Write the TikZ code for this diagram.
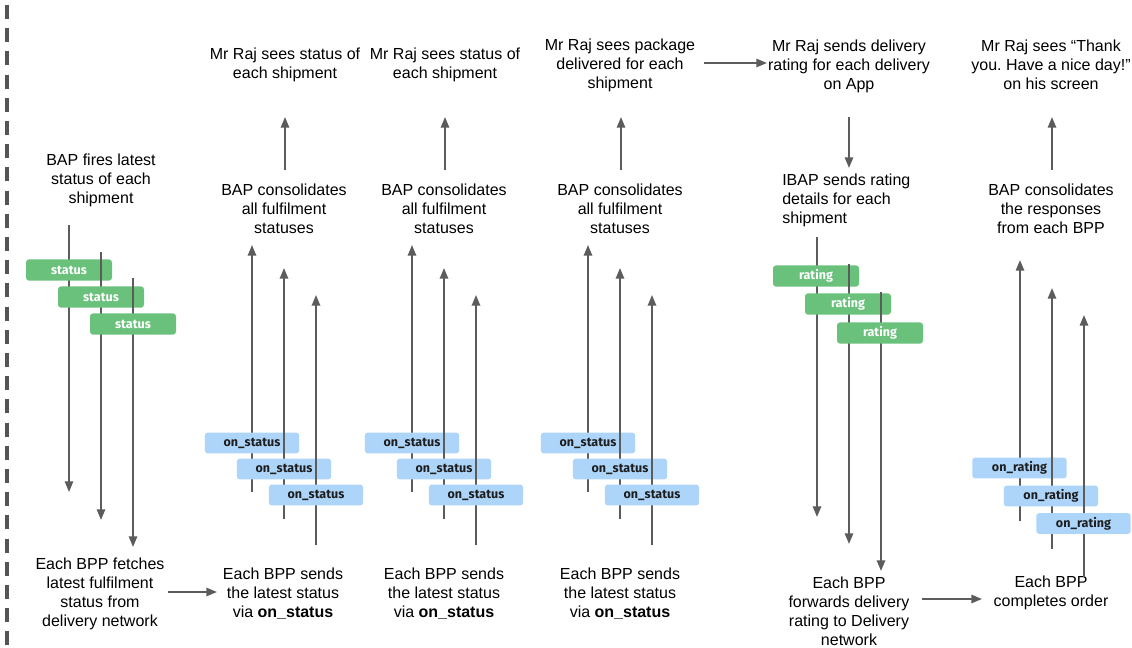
\documentclass[tikz,border=0pt]{standalone}
\usepackage{fontspec}
\setmainfont{Liberation Sans}
\newfontfamily\tagfont{Fira Sans}
\usetikzlibrary{arrows.meta}
\frenchspacing
\definecolor{lc}{HTML}{5C5C5C}
\definecolor{dashc}{HTML}{555555}
\definecolor{tgreen}{HTML}{6AC17B}
\definecolor{tblue}{HTML}{ADD5FA}
\definecolor{tdark}{HTML}{1E1E1E}
% #1 name, #2 x, #3 start y, #4 end y, #5 tag x, #6 tag y, #7 tag style, #8 tag text
\newcommand\laneitem[8]{%
  \coordinate (#1s) at (#2,#3);
  \coordinate (#1e) at (#2,#4);
  \draw[arr] (#1s) -- (#1e);
  \node[#7] (#1t) at (#5,#6) {#8};
}
\begin{document}
\begin{tikzpicture}[x=0.75pt,y=-0.75pt,
  txt/.style={align=center,inner sep=0pt,font=\fontsize{12}{14.25}\selectfont,text=black},
  txtl/.style={align=left,inner sep=0pt,font=\fontsize{12}{14.25}\selectfont,text=black},
  arr/.style={draw=lc,line width=1.5pt,-{Triangle[length=8pt,width=6.2pt]}},
  tagbase/.style={rounded corners=2.25pt,inner sep=0pt,font=\tagfont\bfseries\fontsize{9.4}{10}\selectfont},
  gtag/.style={tagbase,fill=tgreen,text=white,minimum width=64.5pt,minimum height=15.9pt},
  btag/.style={tagbase,fill=tblue,text=tdark,minimum width=70.8pt,minimum height=15.6pt},
]
\useasboundingbox (0,0) rectangle (1132,647);
\fill[white] (0,0) rectangle (1132,647);

% left dashed separator
\coordinate (dtop) at (7,5);
\coordinate (dbot) at (7,647);
\draw[dashc,line width=3pt,dash pattern=on 10.5pt off 6.9pt] (dtop) -- (dbot);

% ---------- texts ----------
\node[txt] (t1) at (101,180) {BAP fires latest\\status of each\\shipment};
\node[txt] (b1) at (100,594) {Each BPP fetches\\latest fulfilment\\status from\\delivery network};

\node[txt] (m2) at (285,65) {Mr Raj sees status of\\each shipment};
\node[txt] (c2) at (284,209) {BAP consolidates\\all fulfilment\\statuses};
\node[txt] (b2) at (283,594) {Each BPP sends\\the latest status\\via \textbf{on\_status}};

\node[txt] (m3) at (445,65) {Mr Raj sees status of\\each shipment};
\node[txt] (c3) at (444,209) {BAP consolidates\\all fulfilment\\statuses};
\node[txt] (b3) at (444,594) {Each BPP sends\\the latest status\\via \textbf{on\_status}};

\node[txt] (m4) at (620,65) {Mr Raj sees package\\delivered for each\\shipment};
\node[txt] (c4) at (620,209) {BAP consolidates\\all fulfilment\\statuses};
\node[txt] (b4) at (620,594) {Each BPP sends\\the latest status\\via \textbf{on\_status}};

\node[txt] (m5) at (849,66) {Mr Raj sends delivery\\rating for each delivery\\on App};
\node[txtl,anchor=west] (c5) at (782,200) {IBAP sends rating\\details for each\\shipment};
\node[txt] (b5) at (849,611) {Each BPP\\forwards delivery\\rating to Delivery\\network};

\node[txt] (m6) at (1051,65) {Mr Raj sees “Thank\\you. Have a nice day!”\\on his screen};
\node[txt] (c6) at (1051,209) {BAP consolidates\\the responses\\from each BPP};
\node[txt] (b6) at (1051,593) {Each BPP\\completes order};

% ---------- short connectors ----------
\coordinate (h1s) at (168,592); \coordinate (h1e) at (217,592);
\draw[arr] (h1s) -- (h1e);
\coordinate (h2s) at (704,63); \coordinate (h2e) at (767,63);
\draw[arr] (h2s) -- (h2e);
\coordinate (h3s) at (922,599); \coordinate (h3e) at (982,599);
\draw[arr] (h3s) -- (h3e);

\coordinate (u2s) at (285,170); \coordinate (u2e) at (285,117);
\draw[arr] (u2s) -- (u2e);
\coordinate (u3s) at (445,170); \coordinate (u3e) at (445,117);
\draw[arr] (u3s) -- (u3e);
\coordinate (u4s) at (621,170); \coordinate (u4e) at (621,117);
\draw[arr] (u4s) -- (u4e);
\coordinate (d5s) at (849,117); \coordinate (d5e) at (849,168);
\draw[arr] (d5s) -- (d5e);
\coordinate (u6s) at (1052,170); \coordinate (u6e) at (1052,117);
\draw[arr] (u6s) -- (u6e);

% ---------- column 1: status ----------
\laneitem{a1}{69}{225}{492}{69}{270}{gtag}{status}
\laneitem{a2}{101}{252}{520}{101}{297}{gtag}{status}
\laneitem{a3}{133}{278}{547}{133}{324}{gtag}{status}

% ---------- column 2: on_status ----------
\laneitem{b21}{252}{492}{245}{252}{443}{btag}{on\_status}
\laneitem{b22}{284}{519}{268}{284}{469}{btag}{on\_status}
\laneitem{b23}{316}{545}{295}{316}{495}{btag}{on\_status}

% ---------- column 3: on_status ----------
\laneitem{b31}{412}{492}{245}{412}{443}{btag}{on\_status}
\laneitem{b32}{444}{519}{268}{444}{469}{btag}{on\_status}
\laneitem{b33}{476}{545}{295}{476}{495}{btag}{on\_status}

% ---------- column 4: on_status ----------
\laneitem{b41}{588}{492}{245}{588}{443}{btag}{on\_status}
\laneitem{b42}{620}{519}{268}{620}{469}{btag}{on\_status}
\laneitem{b43}{652}{545}{295}{652}{495}{btag}{on\_status}

% ---------- column 5: rating ----------
\laneitem{r1}{817}{237}{517}{816}{276}{gtag}{rating}
\laneitem{r2}{849}{264}{544}{848}{304}{gtag}{rating}
\laneitem{r3}{881}{292}{571}{880}{333}{gtag}{rating}

% ---------- column 6: on_rating ----------
\laneitem{o1}{1020}{521}{260}{1019.5}{468}{btag}{on\_rating}
\laneitem{o2}{1052}{549}{288}{1051}{496}{btag}{on\_rating}
\laneitem{o3}{1084}{577}{315}{1083.5}{523.5}{btag}{on\_rating}
\end{tikzpicture}
\end{document}
